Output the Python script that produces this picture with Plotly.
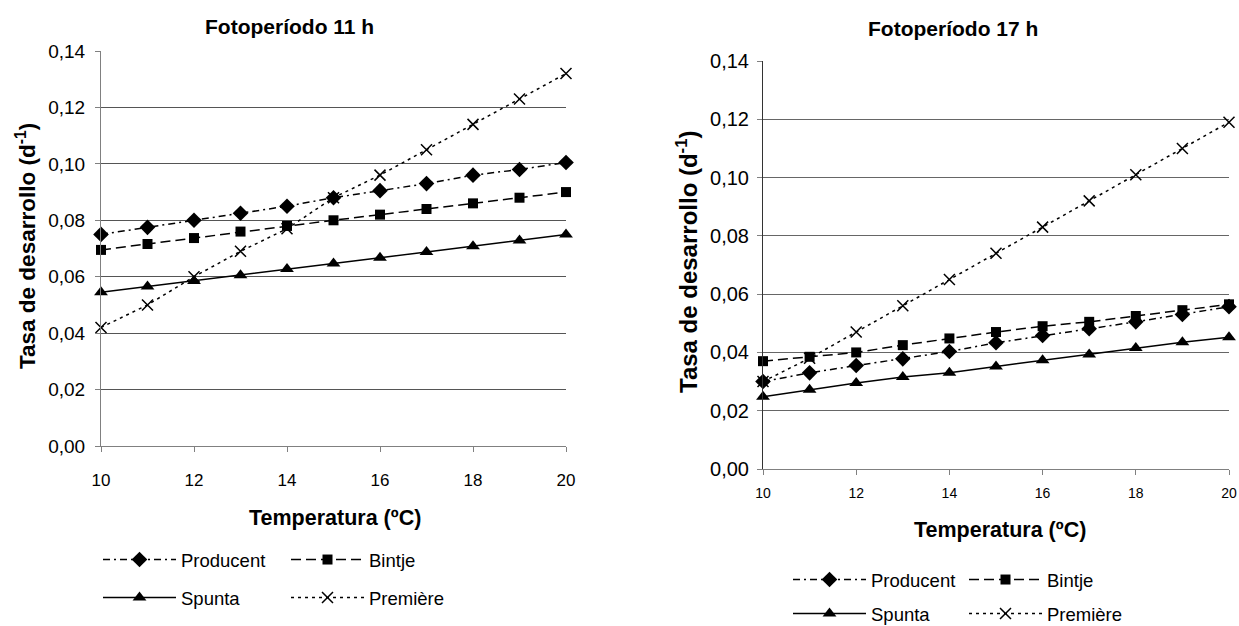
import plotly.graph_objects as go

W, H = 1239, 626

temperatura = [10, 11, 12, 13, 14, 15, 16, 17, 18, 19, 20]
x_ticks = [10, 12, 14, 16, 18, 20]
y_ticks = [0.0, 0.02, 0.04, 0.06, 0.08, 0.10, 0.12, 0.14]

# Fotoperíodo 11 h
producent_11 = [0.075, 0.0775, 0.080, 0.0825, 0.085, 0.088, 0.0905, 0.093, 0.096, 0.098, 0.1005]
bintje_11 = [0.0695, 0.0716, 0.0737, 0.076, 0.078, 0.080, 0.082, 0.084, 0.086, 0.088, 0.090]
spunta_11 = [0.0545, 0.0565, 0.0585, 0.0605, 0.0627, 0.0647, 0.0667, 0.0688, 0.0708, 0.0728, 0.0750]
premiere_11 = [0.042, 0.050, 0.060, 0.069, 0.077, 0.088, 0.096, 0.105, 0.114, 0.123, 0.132]

# Fotoperíodo 17 h
producent_17 = [0.030, 0.033, 0.0355, 0.0378, 0.0403, 0.0433, 0.0458, 0.0481, 0.0505, 0.053, 0.0557]
bintje_17 = [0.037, 0.0385, 0.040, 0.0425, 0.0448, 0.047, 0.049, 0.0505, 0.0525, 0.0545, 0.0565]
spunta_17 = [0.0248, 0.0272, 0.0295, 0.0316, 0.0330, 0.0352, 0.0373, 0.0393, 0.0415, 0.0435, 0.0452]
premiere_17 = [0.030, 0.038, 0.047, 0.056, 0.065, 0.074, 0.083, 0.092, 0.101, 0.110, 0.119]

series_names = ["Producent", "Bintje", "Spunta", "Première"]

FONT = "Liberation Sans, Arial, sans-serif"

styles = {
    "Producent": dict(dash="7px,4px,2px,4px", symbol="diamond", size=12),
    "Bintje": dict(dash="10px,5px", symbol="square", size=10),
    "Spunta": dict(dash="solid", symbol="triangle-up", size=12),
    "Première": dict(dash="3px,4px", symbol="x-thin-open", size=11),
}


def px_x(p):
    return p / W


def px_y(p):
    return 1 - p / H


fig = go.Figure()

data11 = [producent_11, bintje_11, spunta_11, premiere_11]
data17 = [producent_17, bintje_17, spunta_17, premiere_17]

legend_pos_left = {
    "Producent": (98, 560), "Bintje": (286, 560),
    "Spunta": (98, 598), "Première": (286, 598),
}
legend_pos_right = {
    "Producent": (788, 580), "Bintje": (964, 580),
    "Spunta": (788, 614), "Première": (964, 614),
}

legend_layouts = {}
idx = 1
for sub, data, lpos, xa, ya, lfs in [
    (1, data11, legend_pos_left, "x", "y", 18.5),
    (2, data17, legend_pos_right, "x2", "y2", 18.5),
]:
    for name, vals in zip(series_names, data):
        st = styles[name]
        lname = "legend" if idx == 1 else f"legend{idx}"
        marker = dict(symbol=st["symbol"], size=st["size"], color="black")
        if st["symbol"] == "x-thin-open":
            marker["line"] = dict(color="black", width=1.5)
        fig.add_trace(go.Scatter(
            x=temperatura, y=vals, name=name, mode="lines+markers",
            xaxis=xa, yaxis=ya,
            line=dict(color="black", width=1.5, dash=st["dash"]),
            marker=marker, cliponaxis=False,
            legend=lname, showlegend=True,
        ))
        lx, ly = lpos[name]
        legend_layouts[lname] = dict(
            x=px_x(lx), y=px_y(ly), xanchor="left", yanchor="middle",
            xref="paper", yref="paper",
            bgcolor="rgba(0,0,0,0)", borderwidth=0,
            font=dict(family=FONT, size=lfs, color="black"),
            itemwidth=73,
        )
        idx += 1

axis_common = dict(
    zeroline=False, showline=True, linecolor="#808080",
    linewidth=1, ticks="outside", ticklen=5, tickcolor="#808080",
    tickfont=dict(family=FONT, color="black"), automargin=False,
    ticklabeloverflow="allow",
)

fig.update_layout(
    width=W, height=H,
    margin=dict(l=0, r=0, t=0, b=0, autoexpand=False),
    paper_bgcolor="white", plot_bgcolor="white",
    separators=",.",
    showlegend=True,
    xaxis=dict(**axis_common, domain=[px_x(101), px_x(566)], range=[10, 20],
               tickvals=x_ticks, anchor="y", showgrid=False,
               ticklabelstandoff=14),
    yaxis=dict(**axis_common, domain=[px_y(446), px_y(51)], range=[0, 0.14],
               tickvals=y_ticks, tickformat=".2f", anchor="x",
               showgrid=True, gridcolor="#555555", gridwidth=1,
               ticklabelstandoff=6),
    xaxis2=dict(**axis_common, domain=[px_x(763), px_x(1229)], range=[10, 20],
                tickvals=x_ticks, anchor="y2", showgrid=False,
                ticklabelstandoff=6),
    yaxis2=dict(**axis_common, domain=[px_y(469), px_y(61)], range=[0, 0.14],
                tickvals=y_ticks, tickformat=".2f", anchor="x2",
                showgrid=True, gridcolor="#666666", gridwidth=1,
                ticklabelstandoff=4),
    **legend_layouts,
)
fig.layout.xaxis.tickfont.size = 17
fig.layout.yaxis.tickfont.size = 19
fig.layout.xaxis2.tickfont.size = 14
fig.layout.yaxis2.tickfont.size = 20
fig.layout.yaxis2.linecolor = "#333333"

annotations = [
    dict(text="<b>Fotoperíodo 11 h</b>", x=px_x(289), y=px_y(27), size=21),
    dict(text="<b>Fotoperíodo 17 h</b>", x=px_x(953), y=px_y(29), size=21),
    dict(text="<b>Temperatura (ºC)</b>", x=px_x(335), y=px_y(518), size=21.5),
    dict(text="<b>Temperatura (ºC)</b>", x=px_x(1000), y=px_y(530), size=21.5),
    dict(text="<b>Tasa de desarrollo (d<sup>-1</sup>)</b>", x=px_x(26), y=px_y(246), size=22.5, angle=-90),
    dict(text="<b>Tasa de desarrollo (d<sup>-1</sup>)</b>", x=px_x(687), y=px_y(262), size=24, angle=-90),
]
for a in annotations:
    fig.add_annotation(
        text=a["text"], x=a["x"], y=a["y"], xref="paper", yref="paper",
        xanchor="center", yanchor="middle", showarrow=False,
        textangle=a.get("angle", 0),
        font=dict(family=FONT, size=a["size"], color="black"),
    )

fig.write_html("out.html")
